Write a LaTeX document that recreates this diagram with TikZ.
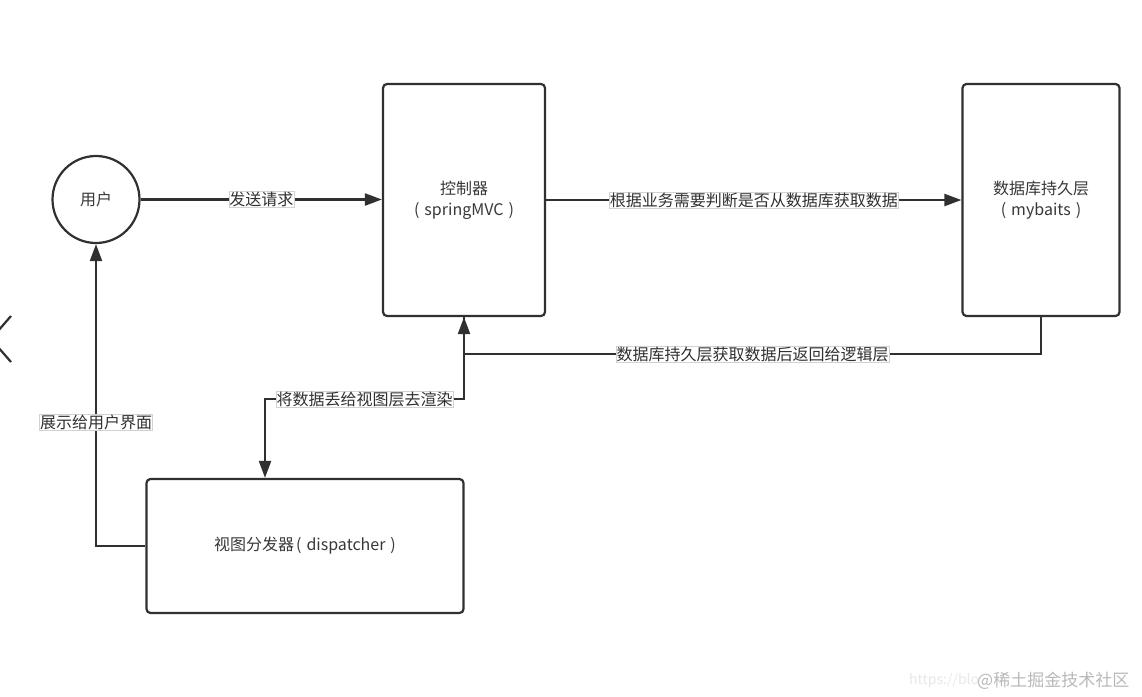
\documentclass[tikz,border=0pt]{standalone}
\usepackage{fontspec}
\setmainfont{Noto Sans CJK SC}
\usetikzlibrary{arrows.meta}
\definecolor{ln}{HTML}{303030}
\definecolor{tx}{HTML}{383838}
\newcommand{\pl}{(\hspace{5pt}}
\newcommand{\pr}{\hspace{5pt})}
\begin{document}
\begin{tikzpicture}[x=1pt,y=-1pt,
  box/.style={draw=ln,line width=2.2pt,rounded corners=4pt,fill=white,inner sep=0pt,text=tx,
    font=\fontsize{16}{21}\selectfont,align=center},
  userc/.style={circle,draw=ln,line width=2.2pt,fill=white,inner sep=0pt,text=tx,
    font=\fontsize{16}{21}\selectfont,minimum size=87pt},
  conn/.style={draw=ln,line width=2.2pt,-{Triangle[length=17pt,width=12pt]}},
  lbl/.style={fill=white,draw=gray!35,line width=0.5pt,inner xsep=0.5pt,inner ysep=0.5pt,
    text=ln,font=\fontsize{16}{18}\selectfont},
  wm/.style={anchor=west,inner sep=0pt}]
\useasboundingbox (0,0) rectangle (1142,696);
\fill[white] (0,0) rectangle (1142,696);

% stray chevron at the left edge
\draw[ln,line width=2.2pt] (11,316) -- (-9,339) -- (11,362);

\node[userc] (user) at (96,199.5) {用户};
\node[box,minimum width=162pt,minimum height=232pt] (ctrl) at (464,200) {控制器\\\pl springMVC\pr};
\node[box,minimum width=157pt,minimum height=232pt] (db) at (1041,200) {数据库持久层\\\pl mybaits\pr};
\node[box,minimum width=317pt,minimum height=134pt] (disp) at (305,546) {视图分发器\hspace{2pt}\pl dispatcher\pr};

\coordinate (dx) at (265,0);

\draw[conn] (user.east) -- node[lbl]{发送请求} (ctrl.west |- user.east);
\draw[conn] (ctrl.east) -- node[lbl]{根据业务需要判断是否从数据库获取数据} (db.west);
\draw[conn] (db.south) -- ++(0,37) -| node[pos=0.25,lbl]{数据库持久层获取数据后返回给逻辑层} (ctrl.south);
\draw[conn] (ctrl.south) -- ++(0,82) -| node[pos=0.25,lbl]{将数据丢给视图层去渲染} (dx |- disp.north);
\draw[conn] (disp.west) -| node[pos=0.705,lbl]{展示给用户界面} (user.south);

% watermark
\node[wm,text=gray!18,font=\fontsize{14}{14}\selectfont] (wm1) at (909,681) {https://blo};
\node[wm,text=gray!55,font=\fontsize{17}{17}\selectfont] (wm2) at (977,681) {@稀土掘金技术社区};
\end{tikzpicture}
\end{document}
